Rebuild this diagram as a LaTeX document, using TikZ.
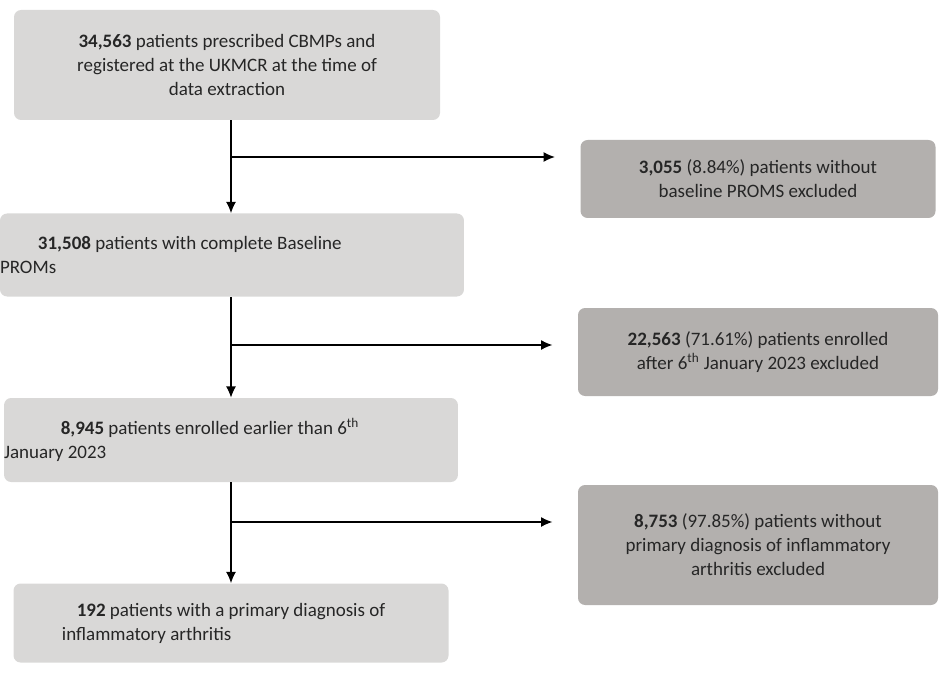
\documentclass[tikz,border=0pt]{standalone}
\usepackage{fontspec}
\setmainfont{Carlito}
\usetikzlibrary{arrows.meta}
\definecolor{boxlight}{HTML}{D9D8D7}
\definecolor{boxdark}{HTML}{B3B0AE}
\definecolor{txt}{HTML}{262626}
\begin{document}
\begin{tikzpicture}[x=0.025cm,y=-0.025cm,font=\fontsize{13.5}{17}\selectfont,text=txt]

\tikzstyle{block} = [
	fill=boxlight, rectangle, rounded corners=5pt,
	inner sep=0pt, align=center ];
\tikzstyle{excl} = [block, fill=boxdark];
\tikzstyle{line} = [draw=black, line width=0.9pt];
\tikzstyle{arr} = [line, -{Latex[length=8pt,width=7pt]}];
\useasboundingbox (0,0) rectangle (951,675);

% main column
\node[block,minimum width=426*0.025cm,minimum height=110*0.025cm] (b1) at (227,65)
	{\textbf{34,563} patients prescribed CBMPs and\\registered at the UKMCR at the time of\\data extraction};
\node[block,minimum width=431*0.025cm,minimum height=83*0.025cm] (b2) at (232,255)
	{\textbf{31,508} patients with complete Baseline\hspace*{60pt}\\PROMs\hspace*{290pt}};
\node[block,minimum width=435*0.025cm,minimum height=84*0.025cm] (b3) at (231,440)
	{\textbf{8,945} patients enrolled earlier than 6\textsuperscript{th}\hspace*{30pt}\\January 2023\hspace*{250pt}};
\node[block,minimum width=435*0.025cm,minimum height=79*0.025cm] (b4) at (231,623)
	{\textbf{192} patients with a primary diagnosis of\\inflammatory arthritis\hspace*{120pt}};

% exclusions
\node[excl,minimum width=355*0.025cm,minimum height=78*0.025cm] (e1) at (758,179)
	{\textbf{3,055} (8.84\%) patients without\\baseline PROMS excluded};
\node[excl,minimum width=360*0.025cm,minimum height=88*0.025cm] (e2) at (758,352)
	{\textbf{22,563} (71.61\%) patients enrolled\\after 6\textsuperscript{th} January 2023 excluded};
\node[excl,minimum width=360*0.025cm,minimum height=120*0.025cm] (e3) at (758,545)
	{\textbf{8,753} (97.85\%) patients without\\primary diagnosis of inflammatory\\arthritis excluded};

% connectors
\coordinate (j1) at (231,157);
\coordinate (j2) at (231,345);
\coordinate (j3) at (231,522);
\draw[arr] (b1.south -| j1) -- (b2.north -| j1);
\draw[arr] (b2.south -| j2) -- (b3.north -| j2);
\draw[arr] (b3.south -| j3) -- (b4.north -| j3);
\draw[arr] (j1) -- ([xshift=-18pt]j1 -| e1.west);
\draw[arr] (j2) -- ([xshift=-18pt]j2 -| e2.west);
\draw[arr] (j3) -- ([xshift=-18pt]j3 -| e3.west);

\end{tikzpicture}
\end{document}
